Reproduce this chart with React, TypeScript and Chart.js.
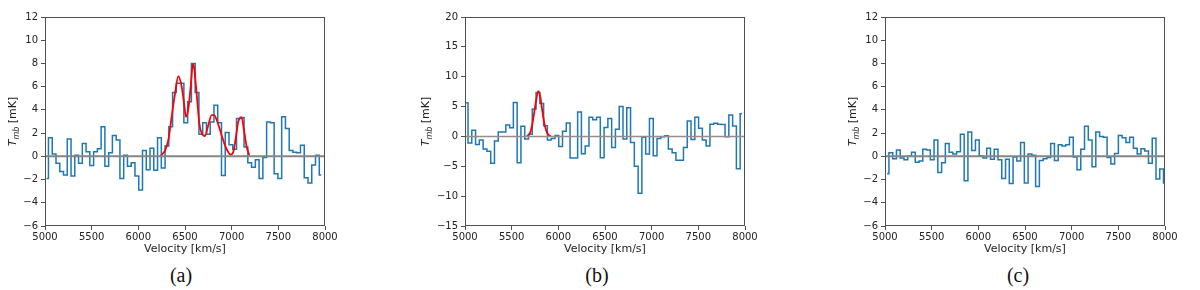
import React, { useEffect, useRef } from 'react';
import { Chart, registerables } from 'chart.js';

Chart.register(...registerables);

// ---------- shared axis values ----------
const VEL_MIN = 5000;
const VEL_MAX = 8000;
const VEL_STEP = 500;

// ---------- panel (a) ----------
const A_CENTER0 = 5017; // velocity of first channel centre [km/s]
const A_CHAN = 40.3; // channel width [km/s]
const A_TMB = [
  -1.9, 1.6, 0.2, -0.6, -1.3, -1.6, 1.5, -1.7, 0.1, -0.6,
  1.1, 0.4, -0.8, 0.4, 0.65, 2.55, -0.85, 0.3, 1.8, 1.4,
  -1.9, 0.1, -0.85, -0.55, -1.7, -2.9, 0.5, -1.15, 0.7, -1.2,
  1.6, -1.0, 0.9, 2.55, 5.5, 6.3, 6.3, 2.9, 4.7, 8.0,
  5.5, 1.9, 2.9, 1.9, 2.95, 4.4, 2.9, -1.65, 2.05, 1.0,
  0.6, 3.25, 3.35, 0.8, -0.55, -0.95, -0.3, -1.9, -0.1, 2.95,
  2.9, -1.5, -1.9, 3.4, 2.4, 0.5, 0.35, 0.3, 0.95, -1.85,
  -2.3, -0.75, 0.1, -1.6,
];
const A_FIT_VEL = [
  6239, 6286, 6321, 6357, 6393, 6429, 6464, 6489, 6511, 6536, 6561, 6584, 6598,
  6625, 6654, 6679, 6714, 6750, 6786, 6811, 6846, 6893, 6929, 6964, 6989, 7018,
  7046, 7071, 7107, 7132, 7161, 7189,
];
const A_FIT_TMB = [
  0.05, 0.5, 1.4, 3.4, 5.4, 6.9, 6.0, 4.6, 3.4, 4.1, 6.0, 7.95, 7.6,
  5.4, 2.8, 2.0, 1.75, 2.7, 3.55, 3.55, 3.0, 1.8, 0.95, 0.35, 0.15, 0.4,
  1.7, 3.0, 3.35, 2.25, 0.8, 0.1,
];
const A_Y_TICKS = { min: -6, max: 12, step: 2 };

// ---------- panel (b) ----------
const B_CENTER0 = 5012;
const B_CHAN = 40.5;
const B_TMB = [
  5.65, -1.1, 1.05, -1.35, -0.6, -2.1, -2.5, -4.5, -0.75, 0.75,
  0.75, 1.9, 1.45, 5.7, -4.4, 1.7, -0.45, 0.35, 4.6, 7.35,
  5.5, 1.8, -0.6, -0.35, 0.15, -1.7, 0.85, 2.25, -3.6, -3.6,
  4.1, -2.9, -1.6, 3.2, 2.8, 3.2, -3.55, 1.5, 3.0, -1.85,
  1.2, 5.0, -0.45, 4.8, -1.0, -5.0, -9.5, -0.15, -2.95, 3.0,
  -3.25, -0.35, -0.05, 0.1, -2.1, -2.75, -4.0, -4.0, -1.85, 2.6,
  -0.5, 3.2, 1.35, -0.6, -1.6, 2.05, 2.2, 2.05, 2.0, -0.05,
  3.6, 1.75, -5.4, 3.8,
];
const B_FIT_VEL = [5663, 5691, 5716, 5741, 5763, 5784, 5806, 5827, 5849, 5870, 5892, 5920];
const B_FIT_TMB = [0.05, 0.4, 1.6, 3.9, 6.1, 7.6, 6.7, 4.4, 2.3, 0.95, 0.3, 0.05];
const B_Y_TICKS = { min: -15, max: 20, step: 5 };

// ---------- panel (c) ----------
const C_CENTER0 = 5022;
const C_CHAN = 40.3;
const C_TMB = [
  -1.5, 0.3, -0.2, 0.55, -0.15, -0.3, 0.0, 0.35, -0.5, -0.4,
  0.6, 0.55, -0.3, 1.4, -1.4, -0.55, 1.1, 0.35, 0.2, 0.4,
  1.9, -2.1, 2.1, 0.5, 1.4, 0.05, -0.15, 0.7, -0.25, 0.6,
  -0.3, -1.9, -0.25, -2.35, -0.05, -0.4, 1.2, -2.3, 0.2, 0.1,
  -2.6, -0.35, -0.2, -0.1, 1.1, -0.35, 1.0, 0.9, 1.0, 1.65,
  -0.05, -1.15, 0.6, 2.6, 1.4, -0.9, 2.1, 1.7, 1.65, -0.1,
  -0.65, 0.25, 1.8, 1.6, 1.2, 1.65, 0.7, 0.2, 0.65, 0.45,
  -0.6, 1.55, -1.95, -1.1, -2.3,
];
const C_Y_TICKS = { min: -6, max: 12, step: 2 };

const CAPTIONS = ['(a)', '(b)', '(c)'];
const X_TITLE = 'Velocity [km/s]';

// ---------- styling ----------
const FONT = "'DejaVu Sans', sans-serif";
const TEXT = '#222222';
const SPINE = '#505050';
const BLUE = '#1f77b4';
const RED = '#ff0000';

const fmt = (v: number) => (v < 0 ? '\u2212' + Math.abs(v) : String(v));

const framePlugin = {
  id: 'frame',
  afterDatasetsDraw(chart: any) {
    const { ctx, chartArea } = chart;
    const l = Math.round(chartArea.left) + 0.5;
    const t = Math.round(chartArea.top) + 0.5;
    const r = Math.round(chartArea.right) - 0.5;
    const b = Math.round(chartArea.bottom) - 0.5;
    ctx.save();
    ctx.strokeStyle = SPINE;
    ctx.lineWidth = 1;
    ctx.strokeRect(l, t, r - l, b - t);
    ctx.restore();
  },
};

const yTitlePlugin = {
  id: 'yTitle',
  afterDraw(chart: any, _args: any, opts: any) {
    const { ctx, chartArea } = chart;
    const x = chartArea.left - opts.offset;
    const y = (chartArea.top + chartArea.bottom) / 2;
    const fMain = `italic 11px ${FONT}`;
    const fSub = `italic 8px ${FONT}`;
    const fRest = `11px ${FONT}`;
    ctx.save();
    ctx.translate(x, y);
    ctx.rotate(-Math.PI / 2);
    ctx.fillStyle = TEXT;
    ctx.textBaseline = 'alphabetic';
    ctx.font = fMain;
    const wT = ctx.measureText('T').width;
    ctx.font = fSub;
    const wS = ctx.measureText('mb').width;
    ctx.font = fRest;
    const wR = ctx.measureText(' [mK]').width;
    let px = -(wT + wS + wR) / 2;
    ctx.font = fMain;
    ctx.fillText('T', px, 4);
    px += wT;
    ctx.font = fSub;
    ctx.fillText('mb', px, 6.5);
    px += wS;
    ctx.font = fRest;
    ctx.fillText(' [mK]', px, 4);
    ctx.restore();
  },
};

type PanelProps = {
  left: number;
  center0: number;
  chan: number;
  tmb: number[];
  fitVel?: number[];
  fitTmb?: number[];
  yTicks: { min: number; max: number; step: number };
  zeroColor: string;
  zeroWidth: number;
  titleOffset: number;
  caption: string;
  captionX: number;
};

const CANVAS_W = 360;
const CANVAS_H = 260;
const PLOT_W = 280;
const Y_AXIS_W = 45;
const X_AXIS_H = 34;
const PLOT_TOP = 17;

function Panel(p: PanelProps) {
  const ref = useRef<HTMLCanvasElement | null>(null);
  useEffect(() => {
    if (!ref.current) return;
    const chanPts = p.tmb.map((t, i) => ({ x: p.center0 + i * p.chan, y: t }));
    const datasets: any[] = [
      {
        data: [
          { x: VEL_MIN, y: 0 },
          { x: VEL_MAX, y: 0 },
        ],
        borderColor: p.zeroColor,
        borderWidth: p.zeroWidth,
        pointRadius: 0,
        fill: false,
      },
    ];
    if (p.fitVel && p.fitTmb) {
      datasets.push({
        data: p.fitVel.map((v, i) => ({ x: v, y: p.fitTmb![i] })),
        borderColor: RED,
        borderWidth: 1.8,
        pointRadius: 0,
        fill: false,
        cubicInterpolationMode: 'monotone',
      });
    }
    datasets.push({
      data: chanPts,
      borderColor: BLUE,
      borderWidth: 1.5,
      pointRadius: 0,
      fill: false,
      stepped: 'middle',
    });
    const chart = new Chart(ref.current, {
      type: 'line',
      data: { datasets },
      plugins: [framePlugin, yTitlePlugin],
      options: {
        animation: false,
        responsive: false,
        layout: {
          padding: { top: PLOT_TOP, right: CANVAS_W - Y_AXIS_W - PLOT_W, left: 0, bottom: 0 },
        },
        plugins: {
          legend: { display: false },
          tooltip: { enabled: false },
          yTitle: { offset: p.titleOffset },
        } as any,
        scales: {
          x: {
            type: 'linear',
            min: VEL_MIN,
            max: VEL_MAX,
            afterFit: (s: any) => {
              s.height = X_AXIS_H;
            },
            ticks: {
              stepSize: VEL_STEP,
              autoSkip: false,
              maxRotation: 0,
              padding: 1,
              color: TEXT,
              font: { family: FONT, size: 10 },
              callback: (v: any) => fmt(Number(v)),
            },
            grid: { drawOnChartArea: false, drawTicks: true, tickLength: 4, tickColor: SPINE },
            border: { display: false },
            title: {
              display: true,
              text: X_TITLE,
              color: TEXT,
              font: { family: FONT, size: 11 },
              padding: { top: 0, bottom: 4 },
            },
          },
          y: {
            type: 'linear',
            min: p.yTicks.min,
            max: p.yTicks.max,
            afterFit: (s: any) => {
              s.width = Y_AXIS_W;
            },
            ticks: {
              stepSize: p.yTicks.step,
              autoSkip: false,
              padding: 3,
              color: TEXT,
              font: { family: FONT, size: 10 },
              callback: (v: any) => fmt(Number(v)),
            },
            grid: { drawOnChartArea: false, drawTicks: true, tickLength: 4, tickColor: SPINE },
            border: { display: false },
          },
        },
      } as any,
    });
    return () => chart.destroy();
  }, []);
  return (
    <>
      <canvas
        ref={ref}
        width={CANVAS_W}
        height={CANVAS_H}
        style={{ position: 'absolute', left: p.left, top: 0, width: CANVAS_W, height: CANVAS_H }}
      />
      <div
        style={{
          position: 'absolute',
          left: p.captionX,
          top: 264,
          transform: 'translateX(-50%)',
          fontFamily: "'Liberation Serif', serif",
          fontSize: 20,
          lineHeight: '22px',
          color: '#111',
          whiteSpace: 'nowrap',
        }}
      >
        {p.caption}
      </div>
    </>
  );
}

export default function App() {
  return (
    <div
      style={{
        position: 'absolute',
        left: 0,
        top: 0,
        width: 1200,
        height: 290,
        background: '#ffffff',
        overflow: 'hidden',
      }}
    >
      <Panel
        left={0}
        center0={A_CENTER0}
        chan={A_CHAN}
        tmb={A_TMB}
        fitVel={A_FIT_VEL}
        fitTmb={A_FIT_TMB}
        yTicks={A_Y_TICKS}
        zeroColor="#858585"
        zeroWidth={2}
        titleOffset={33}
        caption={CAPTIONS[0]}
        captionX={181}
      />
      <Panel
        left={420}
        center0={B_CENTER0}
        chan={B_CHAN}
        tmb={B_TMB}
        fitVel={B_FIT_VEL}
        fitTmb={B_FIT_TMB}
        yTicks={B_Y_TICKS}
        zeroColor="#9a8a8a"
        zeroWidth={1.5}
        titleOffset={40}
        caption={CAPTIONS[1]}
        captionX={597}
      />
      <Panel
        left={840}
        center0={C_CENTER0}
        chan={C_CHAN}
        tmb={C_TMB}
        yTicks={C_Y_TICKS}
        zeroColor="#858585"
        zeroWidth={2}
        titleOffset={33}
        caption={CAPTIONS[2]}
        captionX={1018}
      />
    </div>
  );
}
